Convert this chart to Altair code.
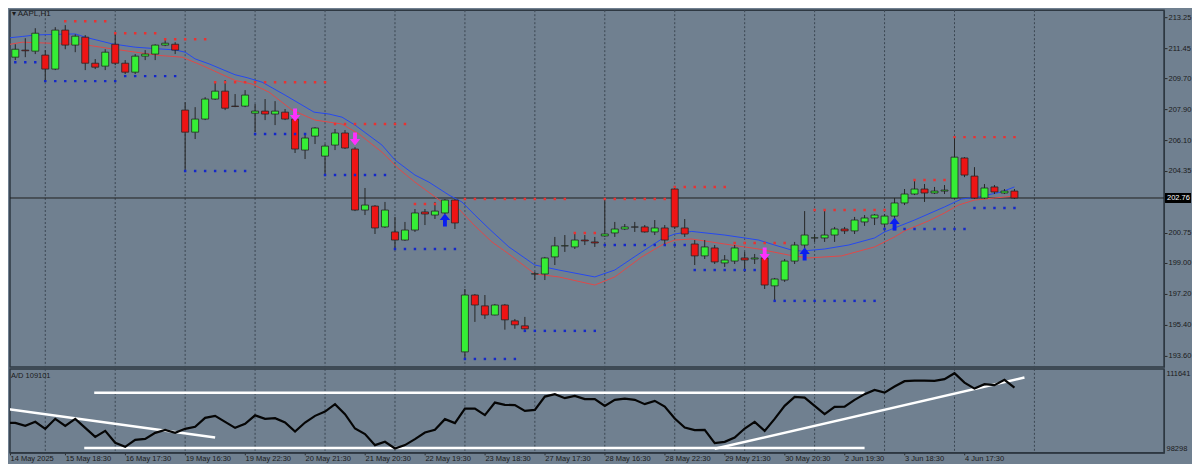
import altair as alt
import pandas as pd

# ---------------- candles (hourly AAPL bars, index 0..101) ----------------
opens = [212.26, 210.93, 211.34, 211.28, 211.05, 210.24, 212.50, 211.63, 212.09, 210.58,
         210.41, 211.68, 210.58, 210.06, 210.99, 211.11, 211.63, 211.68, 207.86, 206.58,
         207.34, 208.50, 208.96, 208.09, 208.09, 207.68, 207.80, 207.63, 207.74, 207.34,
         205.54, 206.35, 205.19, 205.83, 206.53, 205.60, 202.06, 202.29, 201.08, 200.79,
         200.32, 200.90, 201.95, 201.77, 201.89, 202.64, 193.83, 197.13, 196.50, 195.97,
         196.55, 195.63, 195.34, 198.35, 198.35, 199.34, 199.98, 199.92, 200.32, 200.21,
         200.56, 200.73, 200.96, 201.08, 201.08, 200.79, 201.02, 203.28, 201.02, 200.09,
         199.40, 199.86, 198.99, 199.10, 199.28, 199.22, 199.28, 197.66, 198.00, 199.10,
         200.03, 200.44, 200.44, 200.61, 200.96, 200.85, 201.37, 201.60, 201.25, 201.71,
         202.47, 202.99, 203.28, 203.05, 203.16, 202.76, 205.08, 204.03, 202.76, 203.40,
         203.05, 203.16]
highs = [212.55, 211.68, 212.03, 212.61, 211.34, 212.67, 212.79, 212.26, 212.21, 210.82,
         211.39, 212.38, 210.76, 211.11, 211.34, 211.68, 211.92, 211.80, 208.32, 208.03,
         208.61, 209.48, 209.60, 208.79, 209.02, 208.21, 208.50, 208.38, 207.92, 207.45,
         206.41, 206.87, 205.89, 206.76, 206.70, 205.71, 203.34, 202.35, 202.53, 201.66,
         201.37, 202.12, 202.12, 202.53, 202.70, 202.70, 197.48, 197.19, 197.13, 196.61,
         196.61, 195.74, 195.86, 198.47, 199.34, 200.50, 200.61, 200.67, 200.61, 200.50,
         202.70, 201.37, 201.25, 201.37, 201.19, 201.48, 201.19, 203.40, 201.54, 200.32,
         200.32, 200.03, 199.45, 200.03, 199.63, 199.51, 199.51, 198.12, 199.22, 200.21,
         202.00, 200.67, 202.06, 201.08, 201.08, 201.66, 201.77, 201.83, 201.83, 202.76,
         203.28, 203.74, 203.57, 203.40, 203.51, 206.29, 205.13, 204.55, 203.57, 203.51,
         203.28, 203.28]
lows = [210.53, 210.76, 210.93, 211.11, 209.54, 210.18, 211.39, 211.22, 210.18, 210.24,
        210.18, 210.47, 209.95, 209.95, 210.76, 210.76, 211.57, 211.11, 204.38, 206.18,
        207.28, 208.45, 207.86, 208.03, 208.03, 206.58, 207.28, 206.99, 207.28, 205.37,
        205.02, 205.89, 204.09, 205.54, 205.60, 202.00, 201.77, 200.67, 201.02, 199.80,
        200.27, 200.79, 201.19, 201.54, 201.83, 200.96, 193.42, 195.57, 195.74, 195.95,
        195.12, 195.17, 195.12, 198.00, 198.00, 198.87, 199.63, 199.80, 200.03, 199.92,
        200.50, 200.50, 200.90, 200.79, 200.75, 200.61, 200.09, 200.96, 200.50, 198.87,
        199.22, 198.93, 198.76, 198.93, 198.47, 198.93, 197.48, 196.79, 197.89, 198.93,
        199.80, 200.21, 200.21, 200.21, 200.67, 200.67, 201.14, 201.19, 201.08, 201.54,
        202.35, 202.93, 202.53, 202.99, 202.99, 202.70, 203.97, 202.70, 202.70, 202.99,
        202.99, 202.70]
closes = [210.93, 211.39, 211.30, 212.32, 210.24, 212.50, 211.63, 212.15, 210.58, 210.35,
          211.22, 210.58, 210.06, 210.99, 211.11, 211.63, 211.74, 211.34, 206.58, 207.34,
          208.50, 208.96, 207.97, 208.07, 208.73, 207.80, 207.63, 207.80, 207.34, 205.60,
          206.24, 206.82, 205.77, 206.53, 205.66, 202.06, 202.35, 201.02, 202.06, 200.32,
          200.90, 201.89, 201.83, 202.00, 202.64, 201.31, 197.13, 196.55, 195.97, 196.55,
          195.69, 195.40, 195.17, 198.36, 199.28, 199.98, 199.99, 200.32, 200.27, 200.15,
          200.67, 200.96, 201.08, 201.07, 200.79, 201.02, 200.32, 201.08, 200.67, 199.40,
          199.92, 199.05, 199.16, 199.86, 199.16, 199.28, 197.71, 198.06, 199.10, 200.03,
          200.61, 200.45, 200.61, 200.96, 200.85, 201.48, 201.60, 201.77, 201.71, 202.47,
          202.99, 203.28, 203.05, 203.16, 203.22, 205.13, 204.09, 202.76, 203.34, 203.11,
          203.16, 202.76]

# ---------------- moving averages ----------------
blue_ma_idx = [0, 1.7, 3, 7, 8, 10.7, 13, 15.4, 17, 18, 19, 20.4, 23, 24.2, 25.7, 28, 30.9, 32.4,
               33.7, 35, 37.7, 39, 41, 42.4, 44.4, 45.7, 47, 48.5, 50.4, 53, 55.4, 59, 61, 63.7,
               65.7, 67, 68.7, 72, 75.4, 77, 78.7, 79.7, 82, 84.4, 87, 88, 89, 91, 94, 95.7,
               97.4, 99.7, 101]
blue_ma = [212.03, 212.13, 212.22, 212.28, 212.09, 211.70, 211.51, 211.41, 211.35, 211.22,
           210.83, 210.54, 209.91, 209.74, 209.48, 208.73, 207.74, 207.63, 207.45, 206.99,
           205.83, 204.96, 204.09, 203.68, 202.93, 202.53, 201.77, 200.93, 199.92, 198.87,
           198.58, 198.18, 198.58, 199.63, 200.38, 200.67, 200.82, 200.61, 200.32, 200.03,
           199.74, 199.68, 199.80, 200.03, 200.44, 200.79, 201.02, 201.48, 202.24, 202.70,
           202.82, 203.11, 203.40]
red_ma_idx = [0, 1.7, 6.4, 7.4, 10.7, 15.4, 17.7, 19.7, 23, 24.7, 26.4, 28.7, 31, 33.7, 35.4,
              37.7, 39.4, 41, 43.7, 45.4, 47, 48.7, 50.4, 53, 55.4, 59, 61, 63.7, 65.7, 67,
              68.7, 72, 75.4, 78.4, 80.4, 83.7, 87, 89, 90, 92.4, 94, 95.4, 97, 99, 101]
red_ma = [211.63, 211.80, 211.70, 211.70, 211.41, 211.03, 210.93, 210.45, 209.58, 209.37,
          208.90, 207.86, 207.28, 207.05, 206.47, 205.42, 204.44, 203.68, 202.53, 202.12,
          201.14, 200.21, 199.51, 198.35, 198.18, 197.71, 198.18, 199.34, 200.03, 200.32,
          200.38, 200.09, 199.80, 199.45, 199.28, 199.40, 199.92, 200.50, 200.85, 201.43,
          201.89, 202.35, 202.64, 202.76, 202.87]

# ---------------- fractal level dots ----------------
res_level = [214.00, 213.02, 212.32, 211.97, 209.48, 207.05, 202.41, 202.70, 200.73, 202.70,
             203.40, 200.15, 202.06, 203.80, 206.29]
res_from = [1, 6, 11, 16, 21, 33, 41, 46, 57, 60, 67, 73, 81, 91, 95]
res_to = [5, 10, 15, 20, 32, 40, 43, 56, 59, 66, 72, 78, 88, 94, 101]
sup_level = [210.64, 209.54, 209.83, 204.32, 206.47, 204.09, 199.80, 193.42, 195.05, 200.03,
             198.58, 196.79, 200.96, 202.18]
sup_from = [0, 4, 12, 18, 25, 32, 39, 46, 52, 60, 69, 77, 88, 97]
sup_to = [3, 11, 17, 24, 30, 38, 45, 51, 59, 68, 75, 87, 96, 101]

# ---------------- signal arrows ----------------
arrow_idx = [29, 35, 76, 44, 80, 89]
arrow_price = [207.57, 206.18, 199.51, 201.48, 199.51, 201.25]
arrow_kind = ["sell", "sell", "sell", "buy", "buy", "buy"]

# ---------------- A/D indicator ----------------
ad_values = [102846, 102846, 102315, 103023, 101784, 103554, 102315, 103554, 101961, 100368,
             101430, 99307, 98599, 99838, 100015, 101076, 101607, 101076, 101784, 102138,
             103731, 104085, 103023, 101961, 102669, 104173, 103554, 103678, 102899, 101306,
             102899, 104085, 104846, 106155, 104385, 101837, 100846, 98900, 99484, 98298,
             98900, 99961, 101129, 101607, 103501, 102793, 105376, 105376, 104208, 106438,
             106031, 105978, 104969, 105146, 107500, 107925, 107217, 107624, 107040, 107040,
             105854, 106916, 107146, 106916, 106155, 106739, 105730, 103607, 102014, 101554,
             101607, 99254, 99484, 100245, 101837, 103023, 101430, 103554, 105854, 107447,
             107323, 105854, 104385, 105677, 105730, 106916, 107925, 108686, 108208, 109270,
             110225, 110331, 110331, 110278, 110579, 111641, 109977, 108916, 109694, 109517,
             110455, 109101]
trend_x1 = [0, 8.9, 7.9, 71]
trend_v1 = [105323, 108155, 98369, 98245]
trend_x2 = [21, 86, 86, 102]
trend_v2 = [100245, 108155, 98369, 110862]

# ---------------- axes text ----------------
day_breaks = [4, 11, 18, 25, 32, 39, 46, 53, 60, 67, 74, 81, 88, 95, 103]
time_idx = [0, 6, 12, 18, 24, 30, 36, 42, 48, 54, 60, 66, 72, 78, 84, 90, 96]
time_labels = ["14 May 2025", "15 May 18:30", "16 May 17:30", "19 May 16:30", "19 May 22:30",
               "20 May 21:30", "21 May 20:30", "22 May 19:30", "23 May 18:30", "27 May 17:30",
               "28 May 16:30", "28 May 22:30", "29 May 21:30", "30 May 20:30", "2 Jun 19:30",
               "3 Jun 18:30", "4 Jun 17:30"]
price_ticks = [213.25, 211.45, 209.70, 207.90, 206.10, 204.35, 200.75, 199.00, 197.20, 195.40, 193.60]
last_price = 202.76
ad_ticks = [98298, 111641]
symbol_label = "▾ AAPL,H1"
ad_label = "A/D 109101"

# ---------------- styling ----------------
BG = "#708090"
GRID = "#3b4652"
WICK = "#262626"
GREEN = "#35ee35"
RED = "#ee1414"
TXT = "#1b1b1b"
FONT = "Liberation Sans"
W, H1, H2 = 1155, 357, 84
xdom = [0.47, 115.97]
xs = alt.Scale(domain=xdom, nice=False, zero=False, padding=0)
ys1 = alt.Scale(domain=[192.96, 213.656], nice=False, zero=False, padding=0)
ys2 = alt.Scale(domain=[97537, 112402], nice=False, zero=False, padding=0)
DOWN_ARROW = "M-0.3,-1L0.3,-1L0.3,0L0.8,0L0,1L-0.8,0L-0.3,0Z"
UP_ARROW = "M-0.3,1L0.3,1L0.3,0L0.8,0L0,-1L-0.8,0L-0.3,0Z"

# ---------------- frames ----------------
candles = pd.DataFrame({"i": list(range(len(opens))), "o": opens, "h": highs, "l": lows, "c": closes})
candles["dir"] = ["up" if c >= o else "down" for o, c in zip(opens, closes)]

blue_df = pd.DataFrame({"i": blue_ma_idx, "p": blue_ma})
red_df = pd.DataFrame({"i": red_ma_idx, "p": red_ma})

res_rows, sup_rows = [], []
for lv, a, b in zip(res_level, res_from, res_to):
    for k in range(a, b + 1):
        res_rows.append({"i": k, "p": lv})
for lv, a, b in zip(sup_level, sup_from, sup_to):
    for k in range(a, b + 1):
        sup_rows.append({"i": k, "p": lv})
res_df = pd.DataFrame(res_rows)
sup_df = pd.DataFrame(sup_rows)

arrows = pd.DataFrame({"i": arrow_idx, "p": arrow_price, "kind": arrow_kind})
sell_df = arrows[arrows.kind == "sell"]
buy_df = arrows[arrows.kind == "buy"]

grid_df = pd.DataFrame({"i": day_breaks})
last_df = pd.DataFrame({"p": [last_price], "t": [f"{last_price:.2f}"]})

ad_df = pd.DataFrame({"i": list(range(len(ad_values))), "v": ad_values})
trend_df = pd.DataFrame({"x1": trend_x1, "v1": trend_v1, "x2": trend_x2, "v2": trend_v2})

# ---------------- axes ----------------
price_axis = alt.Axis(orient="right", values=price_ticks, format=".2f", title=None,
                      grid=False, labelFont=FONT, labelFontSize=7.5, labelColor=TXT,
                      tickSize=3, tickColor="#2a2a2a", domainColor="#2e3842",
                      labelPadding=1, labelOverlap=False)
ad_axis = alt.Axis(orient="right", values=ad_ticks, format="d", title=None, grid=False,
                   labelFont=FONT, labelFontSize=7.5, labelColor=TXT, ticks=False,
                   domainColor="#2e3842", labelPadding=2, labelOverlap=False)
label_arr = "[" + ",".join(f"'{s}'" for s in time_labels) + "]"
time_axis = alt.Axis(values=[xdom[0]] + time_idx[1:],
                     labelExpr=label_arr + "[datum.value < 1 ? 0 : round(datum.value / 6)]",
                     labelAlign="left", labelFont=FONT, labelFontSize=7.5, labelColor=TXT,
                     labelPadding=0, labelOverlap=False, tickSize=2, tickColor="#2a2a2a",
                     domainColor="#2e3842", grid=False, title=None, labelFlush=False,
                     labelBound=False)

X1 = alt.X("i:Q", scale=xs, axis=None)


def Y1(f):
    return alt.Y(f, scale=ys1, axis=price_axis)


# ---------------- price panel ----------------
grid1 = alt.Chart(grid_df).mark_rule(color=GRID, strokeDash=[2, 2], strokeWidth=1).encode(x=X1)
last_rule = alt.Chart(last_df).mark_rule(color="#202020", strokeWidth=1).encode(y=Y1("p:Q"))
blue_line = alt.Chart(blue_df).mark_line(color="#2548f0", strokeWidth=1, clip=True).encode(
    x=X1, y=Y1("p:Q"))
red_line = alt.Chart(red_df).mark_line(color="#e04848", strokeWidth=1, clip=True).encode(
    x=X1, y=Y1("p:Q"))
wicks = alt.Chart(candles).mark_rule(color=WICK, strokeWidth=1, clip=True).encode(
    x=X1, y=Y1("l:Q"), y2="h:Q")
bodies = alt.Chart(candles).mark_bar(size=7, stroke=WICK, strokeWidth=0.8, clip=True).encode(
    x=X1, y=Y1("o:Q"), y2="c:Q",
    color=alt.Color("dir:N", scale=alt.Scale(domain=["up", "down"], range=[GREEN, RED]), legend=None),
)
res_layer = alt.Chart(res_df).mark_square(size=6, opacity=1, color="#e83232", clip=True).encode(
    x=X1, y=Y1("p:Q"))
sup_layer = alt.Chart(sup_df).mark_square(size=6, opacity=1, color="#1428c8", clip=True).encode(
    x=X1, y=Y1("p:Q"))
sell_layer = alt.Chart(sell_df).mark_point(shape=DOWN_ARROW, filled=True, size=170, opacity=1,
                                           color="#ff30ff", clip=True).encode(x=X1, y=Y1("p:Q"))
buy_layer = alt.Chart(buy_df).mark_point(shape=UP_ARROW, filled=True, size=170, opacity=1,
                                         color="#0a1ef0", clip=True).encode(x=X1, y=Y1("p:Q"))
box = alt.Chart(last_df).mark_bar(orient="horizontal", size=10, color="#000000").encode(
    x=alt.value(W + 1), x2=alt.value(W + 27), y=Y1("p:Q"))
box_text = alt.Chart(last_df).mark_text(align="left", baseline="middle", color="#ffffff",
                                        font=FONT, fontSize=7.5).encode(
    x=alt.value(W + 3), y=Y1("p:Q"), text="t:N")
sym = alt.Chart(pd.DataFrame({"t": [symbol_label]})).mark_text(
    align="left", baseline="top", font=FONT, fontSize=8, color=TXT).encode(
    x=alt.value(2), y=alt.value(0), text="t:N")

price = alt.layer(grid1, last_rule, blue_line, red_line, wicks, bodies, res_layer, sup_layer,
                  sell_layer, buy_layer, box, box_text, sym).properties(width=W, height=H1)

# ---------------- A/D panel ----------------
X2 = alt.X("i:Q", scale=xs, axis=time_axis)
grid2 = alt.Chart(grid_df).mark_rule(color=GRID, strokeDash=[2, 2], strokeWidth=1).encode(x=X2)
trends = alt.Chart(trend_df).mark_rule(color="#ffffff", strokeWidth=2.5, clip=True).encode(
    x=alt.X("x1:Q", scale=xs, axis=time_axis), x2="x2:Q",
    y=alt.Y("v1:Q", scale=ys2, axis=ad_axis), y2="v2:Q")
ad_line = alt.Chart(ad_df).mark_line(color="#050505", strokeWidth=2.2, clip=True).encode(
    x=X2, y=alt.Y("v:Q", scale=ys2, axis=ad_axis))
ad_txt = alt.Chart(pd.DataFrame({"t": [ad_label]})).mark_text(
    align="left", baseline="middle", font=FONT, fontSize=7.5, color=TXT).encode(
    x=alt.value(1), y=alt.value(7), text="t:N")

ad = alt.layer(grid2, trends, ad_line, ad_txt).properties(width=W, height=H2)

chart = alt.vconcat(price, ad, spacing=2, bounds="flush").properties(
    background=BG, padding=0).configure_view(stroke="#2e3842", strokeWidth=1.5)

chart.save("out.html", embed_options={"renderer": "svg", "actions": False})
